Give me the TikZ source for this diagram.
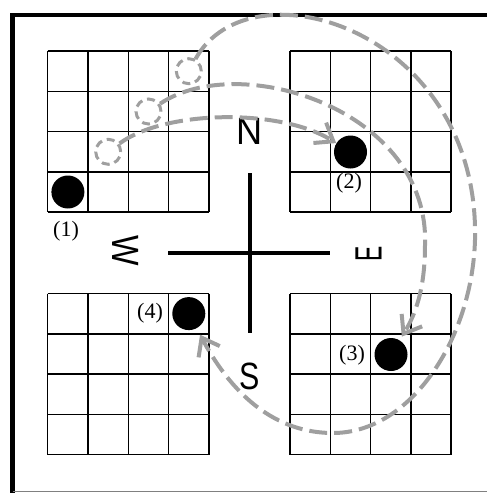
\documentclass[tikz,border=0pt]{standalone}
\usepackage{fontspec}
\setmainfont{Liberation Serif}
\setsansfont{Liberation Sans}
\usetikzlibrary{arrows.meta}
\tikzset{
    cell/.style={line width=0.75pt},
    stone/.style={circle, fill=black, minimum size=16.5pt, inner sep=0pt},
    ghost/.style={circle, draw=gray!75, line width=1.5pt, dash pattern=on 4pt off 2.5pt, minimum size=12.5pt, inner sep=0pt},
    move/.style={draw=gray!75, line width=2pt, dash pattern=on 9pt off 3.5pt, -{Straight Barb[length=8pt,width=12pt]}},
    compass/.style={font=\sffamily\fontsize{19}{19}\selectfont, inner sep=0pt},
    lbl/.style={font=\fontsize{11}{11}\selectfont, inner sep=0pt}
}
\begin{document}
\begin{tikzpicture}[x=0.5pt, y=-0.5pt]
    \useasboundingbox (0,0) rectangle (487,493);
    % Frame
    \draw[line width=2.2pt] (12.5,493) -- (12.5,15) -- (487,15);
    \draw[gray, line width=0.6pt] (12.5,491.5) -- (487,491.5);

    % The four boards
    \foreach \gx/\gy in {47.7/51, 290/51, 47.7/293.5, 290/293.5}
        \foreach \i in {0,...,4} {
            \draw[cell] (\gx+\i*40.3,\gy) -- ++(0,161.2);
            \draw[cell] (\gx,\gy+\i*40.3) -- ++(161.2,0);
        }

    % Compass
    \draw[line width=2pt] (250,173) -- (250,333);
    \draw[line width=2pt] (168,253) -- (330,253);
    \node[compass, xscale=0.95] (north) at (250,131) {N};
    \node[compass, xscale=0.8] (south) at (250,376) {S};
    \node[compass, rotate=-90, xscale=0.85] (west) at (126,250.5) {W};
    \node[compass, rotate=90, xscale=0.6] (east) at (368.5,253.5) {E};

    % Stones and their labels
    \node[stone] (s1) at (67.9,192) {};
    \node[stone] (s2) at (350.5,152) {};
    \node[stone] (s3) at (391,354.5) {};
    \node[stone] (s4) at (188.8,313.6) {};
    \node[lbl] (l1) at (66,231) {(1)};
    \node[lbl] (l2) at (349,183) {(2)};
    \node[lbl] (l3) at (352,355) {(3)};
    \node[lbl] (l4) at (150,313) {(4)};

    % Earlier positions on the first board
    \node[ghost] (g1) at (188.8,71.2) {};
    \node[ghost] (g2) at (148.5,111.5) {};
    \node[ghost] (g3) at (108.2,151.8) {};

    % Moves
    \draw[move] (g3) .. controls (165,110) and (280,108) .. (s2);
    \draw[move, shorten >=2pt] (g2) .. controls (240,50) and (430,110) .. (425,245)
        .. controls (425,290) and (415,315) .. (s3);
    \draw[move, shorten >=3.5pt] (g1) .. controls (250,-40) and (480,30) .. (475,240)
        .. controls (472,340) and (410,433) .. (333,433)
        .. controls (260,433) and (220,372) .. (s4);
\end{tikzpicture}
\end{document}
